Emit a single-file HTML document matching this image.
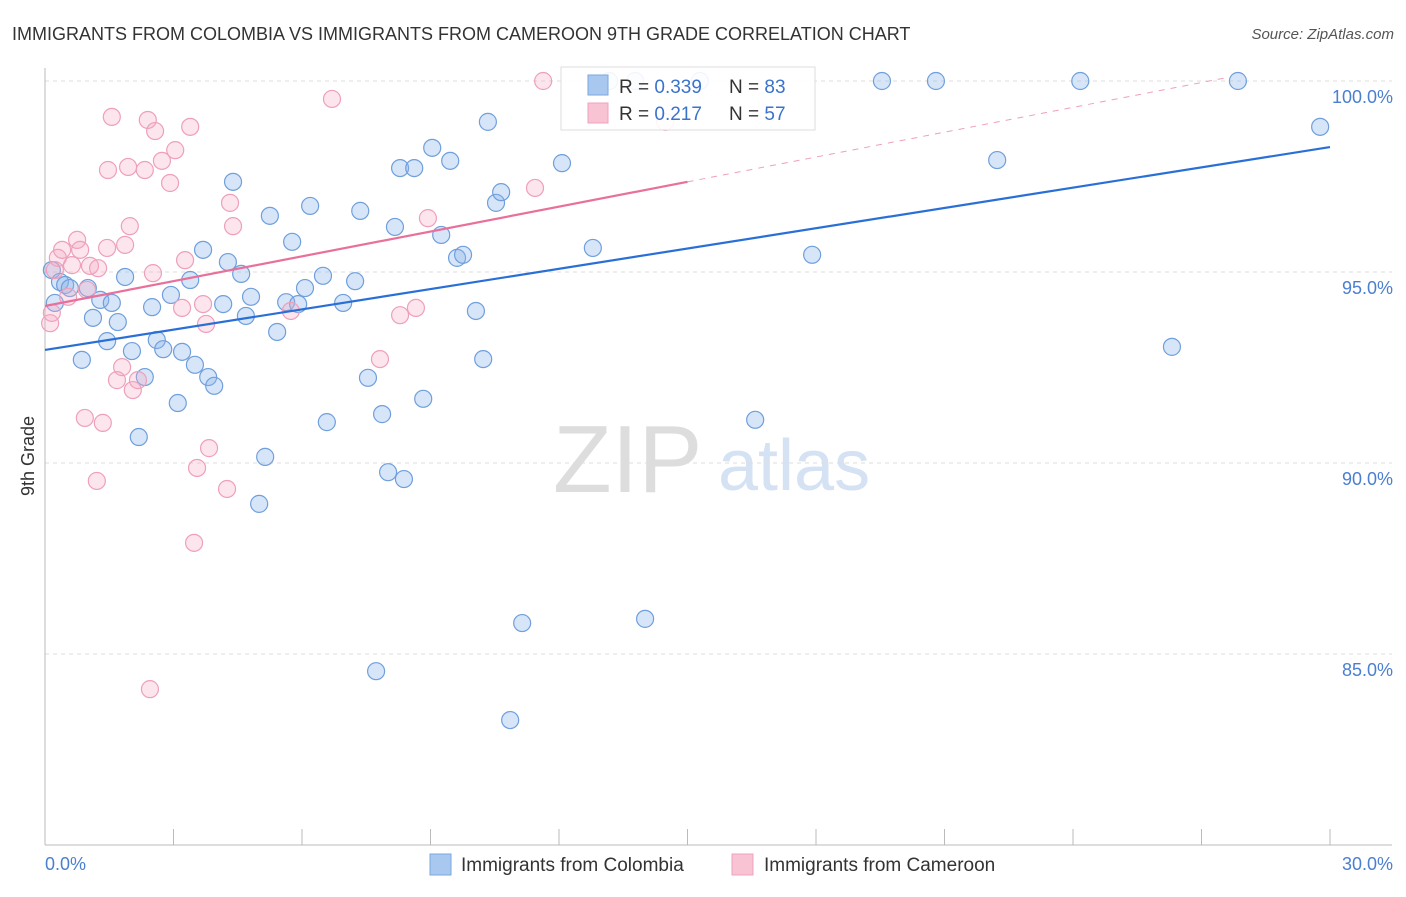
<!DOCTYPE html>
<html><head><meta charset="utf-8"><style>
body{margin:0;background:#fff;font-family:"Liberation Sans",sans-serif;}
svg text{font-family:"Liberation Sans",sans-serif;}
</style></head><body>
<svg id="chart" width="1406" height="892" xmlns="http://www.w3.org/2000/svg">
<text x="12" y="40" font-size="18" fill="#333">IMMIGRANTS FROM COLOMBIA VS IMMIGRANTS FROM CAMEROON 9TH GRADE CORRELATION CHART</text>
<text x="1394" y="39" font-size="15" fill="#555" text-anchor="end" font-style="italic">Source: ZipAtlas.com</text>
<text x="34" y="456" font-size="18" fill="#333" transform="rotate(-90 34 456)" text-anchor="middle">9th Grade</text>
<g><text x="553" y="492" font-size="96" fill="#ddd" font-family="Liberation Serif">ZIP</text><text x="718" y="490" font-size="72" fill="#d4e2f4">atlas</text></g>
<g id="grid"></g><g id="axes"></g><g id="pts"></g><g id="trends"></g>
<g>
<rect x="561" y="67" width="254" height="63" fill="#fff" fill-opacity="0.9" stroke="#ddd"/>
<rect x="588" y="75" width="20" height="20" fill="#a9c8f0" stroke="#7aa7e0"/>
<text x="619" y="93" font-size="19" fill="#333">R = <tspan fill="#3a73cc">0.339</tspan></text>
<text x="729" y="93" font-size="19" fill="#333">N = <tspan fill="#3a73cc">83</tspan></text>
<rect x="588" y="103" width="20" height="20" fill="#f8c4d4" stroke="#f0a0bc"/>
<text x="619" y="120" font-size="19" fill="#333">R =  <tspan fill="#3a73cc">0.217</tspan></text>
<text x="729" y="120" font-size="19" fill="#333">N = <tspan fill="#3a73cc">57</tspan></text>
</g>
<g>
<rect x="430" y="854" width="21" height="21" fill="#a9c8f0" stroke="#7aa7e0"/>
<text x="461" y="871" font-size="19" fill="#333">Immigrants from Colombia</text>
<rect x="732" y="854" width="21" height="21" fill="#f8c4d4" stroke="#f0a0bc"/>
<text x="764" y="871" font-size="19" fill="#333">Immigrants from Cameroon</text>
</g>
</svg>
<script>
const blueX=[0.16,0.23,0.35,0.47,0.58,0.86,1.00,1.12,1.29,1.45,1.56,1.70,1.87,2.03,2.19,2.33,2.50,2.61,2.76,2.94,3.10,3.20,3.39,3.50,3.69,3.81,3.95,4.16,4.27,4.39,4.58,4.69,4.81,5.00,5.14,5.25,5.42,5.63,5.77,5.91,6.07,6.19,6.49,6.58,6.96,7.24,7.36,7.54,7.87,8.01,8.17,8.29,8.38,8.62,8.83,9.04,9.25,9.46,9.62,9.76,10.06,10.23,10.34,10.53,10.65,10.86,11.14,12.07,12.79,14.01,7.73,13.17,13.78,15.29,16.58,17.91,19.54,20.80,22.23,24.17,26.31,27.85,29.77];
const blueY=[95.05,94.19,94.74,94.66,94.58,92.70,94.58,93.80,94.27,93.19,94.19,93.69,94.87,92.93,90.68,92.25,94.08,93.22,92.98,94.40,91.57,92.91,94.79,92.57,95.58,92.25,92.02,94.16,95.26,97.36,94.95,93.85,94.35,88.93,90.16,96.47,93.43,94.21,95.79,94.16,94.58,96.73,94.90,91.07,94.19,94.76,96.60,92.23,91.28,89.76,96.18,97.72,89.58,97.72,91.68,98.25,95.97,97.91,95.37,95.45,93.98,92.72,98.93,96.81,97.09,83.27,85.81,97.85,95.63,85.92,84.55,100,100,100,91.13,95.45,100,100,97.93,100,93.04,100,98.80];
const pinkX=[0.12,0.16,0.23,0.30,0.40,0.54,0.63,0.75,0.82,0.93,0.98,1.05,1.21,1.24,1.35,1.45,1.47,1.56,1.68,1.80,1.87,1.94,1.98,2.05,2.17,2.33,2.40,2.45,2.52,2.57,2.73,2.92,3.04,3.20,3.27,3.39,3.48,3.55,3.69,3.76,3.83,4.25,4.32,4.39,5.74,6.70,7.82,8.29,8.66,8.94,11.44,11.63,14.48];
const pinkY=[93.66,93.93,95.05,95.37,95.58,94.35,95.18,95.84,95.58,91.18,94.53,95.16,89.53,95.10,91.05,95.63,97.67,99.06,92.17,92.51,95.71,97.75,96.20,91.91,92.17,97.67,98.98,84.08,94.97,98.69,97.91,97.33,98.19,94.06,95.31,98.80,87.91,89.87,94.16,93.64,90.39,89.32,96.81,96.20,93.98,99.53,92.72,93.87,94.06,96.41,97.20,100,98.93];
const yTicks=[100,95,90,85];
const yTickLabels=["100.0%","95.0%","90.0%","85.0%"];
const xTicks=[0,3,6,9,12,15,18,21,24,27,30];
const blueTrend=[[0,92.96],[30,98.27]];
const pinkTrendSolid=[[0,94.11],[15,97.36]];
const pinkTrendDash=[[15,97.36],[27.6,100.09]];
const X=v=>45+v/30*1285, Y=v=>81+(100-v)*38.2;
const NS="http://www.w3.org/2000/svg";
function mk(p,t,a){const e=document.createElementNS(NS,t);for(const k in a)e.setAttribute(k,a[k]);p.appendChild(e);return e;}
const grid=document.getElementById('grid'),axes=document.getElementById('axes'),pts=document.getElementById('pts'),tr=document.getElementById('trends');
yTicks.forEach((t,i)=>{const l=mk(grid,'line',{x1:45,x2:1392,y1:Y(t),y2:Y(t),stroke:'#ddd','stroke-dasharray':'4,4'});


const tx=mk(axes,'text',{x:1393,y:Y(t)+22,'font-size':18,fill:'#4a7fd0','text-anchor':'end'});tx.textContent=yTickLabels[i];

});
const ax=mk(axes,'line',{x1:45,x2:1392,y1:845,y2:845,stroke:'#bbb'});


const ay=mk(axes,'line',{x1:45,x2:45,y1:68,y2:845,stroke:'#bbb'});


xTicks.forEach(t=>{const l=mk(axes,'line',{x1:X(t),x2:X(t),y1:829,y2:845,stroke:'#bbb'});

});
const x0=mk(axes,'text',{x:45,y:870,'font-size':18,fill:'#4a7fd0'});x0.textContent='0.0%';


const x1=mk(axes,'text',{x:1393,y:870,'font-size':18,fill:'#4a7fd0','text-anchor':'end'});x1.textContent='30.0%';


blueX.forEach((x,i)=>{const c=mk(pts,'circle',{cx:X(x),cy:Y(blueY[i]),r:8.5,fill:'rgba(140,180,235,0.35)',stroke:'#6f9fdc','stroke-width':1.2});

});
pinkX.forEach((x,i)=>{const c=mk(pts,'circle',{cx:X(x),cy:Y(pinkY[i]),r:8.5,fill:'rgba(245,170,195,0.3)',stroke:'#eea0ba','stroke-width':1.2});

});
function line(d,st,w,dash,name){const l=mk(tr,'line',{x1:X(d[0][0]),y1:Y(d[0][1]),x2:X(d[1][0]),y2:Y(d[1][1]),stroke:st,'stroke-width':w});if(dash)l.setAttribute('stroke-dasharray',dash);return l;}
const bt=line(blueTrend,'#2a6fd6',2.2);


const pt=line(pinkTrendSolid,'#e8709a',2.2);


const pd=line(pinkTrendDash,'#eea0ba',1,'6,6');


</script>
</body></html>
